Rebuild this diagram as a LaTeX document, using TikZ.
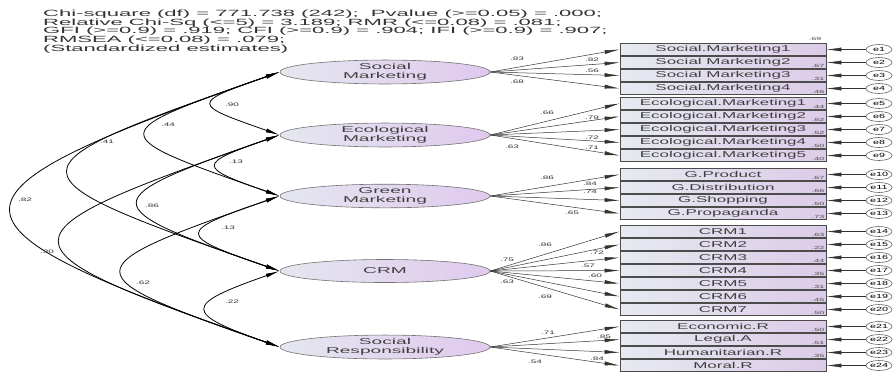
\documentclass[tikz,border=0pt]{standalone}
\usepackage{fontspec}
\setmainfont{Liberation Sans}
\usepackage{graphicx}
\usetikzlibrary{arrows.meta,shapes.geometric}
\definecolor{boxL}{HTML}{E6EAF0}
\definecolor{boxR}{HTML}{DCCBE8}
\definecolor{ellL}{HTML}{E4E7EF}
\definecolor{ellR}{HTML}{E0C9EE}
\newcommand{\xs}[2]{\scalebox{#1}[1]{#2}}
\begin{document}
\begin{tikzpicture}[x=1pt,y=-1pt,
 latent/.style={ellipse, draw=black!55, line width=0.6pt, left color=ellL, right color=ellR,
   minimum width=210pt, minimum height=23pt, inner sep=0pt, align=center, text=black!75,
   font=\fontsize{8.5}{9}\selectfont},
 obs/.style={rectangle, draw=black!70, line width=0.7pt, left color=boxL, right color=boxR,
   minimum width=206pt, minimum height=12pt, inner sep=0pt, text=black!75,
   font=\fontsize{8.5}{8.5}\selectfont},
 err/.style={ellipse, draw=black!60, line width=0.6pt, fill=white, minimum width=26pt,
   minimum height=10pt, inner sep=0pt, font=\fontsize{6}{6}\selectfont},
 arr/.style={draw=black!80, line width=0.5pt, -{Latex[length=15pt,width=4pt]}},
 cov/.style={draw=black, line width=0.8pt, {Latex[length=14pt,width=4pt]}-{Latex[length=14pt,width=4pt]}},
 num/.style={font=\fontsize{5}{5}\selectfont, inner sep=0pt, text=black!80},
 rsq/.style={font=\fontsize{4.5}{4.5}\selectfont, inner sep=0pt, text=black!70}]
\useasboundingbox[fill=white] (0,0) rectangle (896,376);

% header
\node[anchor=north west, align=left, inner sep=0pt, font=\fontsize{9}{8.6}\selectfont, text=black!80] (hdr) at (43,10)
 {\xs{2.45}{Chi-square (df) = 771.738 (242);\ \ Pvalue (>=0.05) = .000;}\\
  \xs{2.45}{Relative Chi-Sq (<=5) = 3.189; RMR (<=0.08) = .081;}\\
  \xs{2.45}{GFI (>=0.9) = .919; CFI (>=0.9) = .904; IFI (>=0.9) = .907;}\\
  \xs{2.45}{RMSEA (<=0.08) = .079;}\\
  \xs{2.45}{(Standardized estimates)}};

% latent variables
\node[latent] (SM) at (385,72) {\xs{2.25}{Social}\\\xs{2.25}{Marketing}};
\node[latent] (Eco) at (385,135) {\xs{2.25}{Ecological}\\\xs{2.25}{Marketing}};
\node[latent] (GM) at (385,196) {\xs{2.25}{Green}\\\xs{2.25}{Marketing}};
\node[latent] (CRM) at (385,271) {\xs{2.25}{CRM}};
\node[latent] (SR) at (385,347) {\xs{2.25}{Social}\\\xs{2.25}{Responsibility}};

% observed variables, errors
\foreach \n/\yy/\t/\r in {
 1/49.5/Social.Marketing1/{},
 2/62.5/Social Marketing2/.67,
 3/75.5/Social Marketing3/.31,
 4/88.5/Social.Marketing4/.46,
 5/103.5/Ecological.Marketing1/.44,
 6/116.5/Ecological.Marketing2/.62,
 7/129.5/Ecological.Marketing3/.52,
 8/142.5/Ecological.Marketing4/.50,
 9/155.5/Ecological.Marketing5/.40,
 10/174.5/G.Product/.67,
 11/187.5/G.Distribution/.66,
 12/200.5/G.Shopping/.50,
 13/213.5/G.Propaganda/.73,
 14/231.5/CRM1/.63,
 15/244.5/CRM2/.22,
 16/257.5/CRM3/.44,
 17/270.5/CRM4/.35,
 18/283.5/CRM5/.31,
 19/296.5/CRM6/.45,
 20/309.5/CRM7/.50,
 21/326.5/Economic.R/.50,
 22/339.5/Legal.A/.51,
 23/352.5/Humanitarian.R/.35,
 24/365.5/Moral.R/{}}
{
 \node[obs] (r\n) at (723,\yy) {\xs{2.0}{\t}};
 \node[rsq] (q\n) at (818,\yy+3) {\xs{2}{\r}};
 \node[err] (e\n) at (879,\yy) {\xs{1.8}{e\n}};
 \draw[arr] (e\n) -- (r\n);
}
\node[rsq] (q0) at (815,39) {\xs{2}{.69}};

% loadings
\foreach \f/\n in {SM/1,SM/2,SM/3,SM/4,Eco/5,Eco/6,Eco/7,Eco/8,Eco/9,GM/10,GM/11,GM/12,GM/13,
  CRM/14,CRM/15,CRM/16,CRM/17,CRM/18,CRM/19,CRM/20,SR/21,SR/22,SR/23,SR/24}
 \draw[arr] (\f.east) -- (r\n.west);

% loading labels
\foreach \i/\xx/\yy/\v in {
 1/517/59/.83, 2/592/60/.82, 3/592/71/.56, 4/517/82/.68,
 5/547/113/.66, 6/592/118/.79, 7/592/138/.72, 8/592/148/.71, 9/512/147/.63,
 10/547/178/.86, 11/590/184/.84, 12/590/192/.74, 13/572/213/.65,
 14/545/245/.86, 15/597/253/.72, 16/588/266/.57, 17/595/276/.60, 18/507/260/.75, 19/507/282/.63, 20/545/297/.69,
 21/548/333/.71, 22/604/337/.85, 23/597/359/.84, 24/535/362/.54}
 \node[num] (l\i) at (\xx,\yy) {\xs{2}{\v}};

% covariances
\draw[cov] (SM.west) .. controls +(-89,31) and +(-89,-31) .. (Eco.west);
\draw[cov] (Eco.west) .. controls +(-83,29) and +(-83,-29) .. (GM.west);
\draw[cov] (GM.west) .. controls +(-104,36) and +(-104,-36) .. (CRM.west);
\draw[cov] (CRM.west) .. controls +(-97,34) and +(-97,-34) .. (SR.west);
\draw[cov] (SM.west) .. controls +(-177,62) and +(-177,-62) .. (GM.west);
\draw[cov] (SM.west) .. controls +(-280,98) and +(-280,-98) .. (CRM.west);
\draw[cov] (SM.west) .. controls +(-356,125) and +(-356,-125) .. (SR.west);
\draw[cov] (Eco.west) .. controls +(-187,65) and +(-187,-65) .. (CRM.west);
\draw[cov] (Eco.west) .. controls +(-291,102) and +(-291,-102) .. (SR.west);
\draw[cov] (GM.west) .. controls +(-209,73) and +(-209,-73) .. (SR.west);

% covariance labels
\foreach \i/\xx/\yy/\v in {
 1/232/105/.90, 2/236/162/.13, 3/228/228/.13, 4/232/302/.22, 5/168/125/.44,
 6/107/142/.41, 7/25/200/.82, 8/152/206/.86, 9/47/252/.30, 10/143/283/.62}
 \node[num] (c\i) at (\xx,\yy) {\xs{2}{\v}};
\end{tikzpicture}
\end{document}
